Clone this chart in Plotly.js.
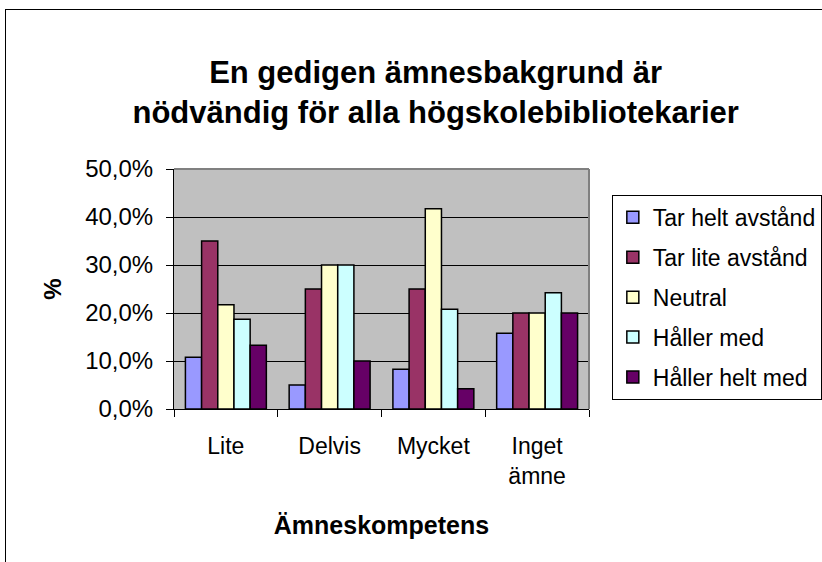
<!DOCTYPE html>
<html>
<head>
<meta charset="utf-8">
<script src="https://cdn.plot.ly/plotly-3.0.1.min.js"></script>
<style>
  html, body { margin: 0; padding: 0; background: #fff; }
  #wrap { position: relative; width: 822px; height: 562px; overflow: hidden; }
  #chart { width: 822px; height: 562px; }
  #frame { position: absolute; left: 5px; top: 9px; width: 900px; height: 700px;
           border-left: 1px solid #000; border-top: 1px solid #000; pointer-events: none; }
</style>
</head>
<body>
<div id="wrap">
  <div id="chart"></div>
  <div id="frame"></div>
</div>
<script>
const categories = ["Lite", "Delvis", "Mycket", "Inget<br>ämne"];
const seriesNames = ["Tar helt avstånd", "Tar lite avstånd", "Neutral", "Håller med", "Håller helt med"];
const tarHeltAvstand = [10.8, 5.0, 8.3, 15.8];
const tarLiteAvstand = [35.0, 25.0, 25.0, 20.0];
const neutral = [21.7, 30.0, 41.7, 20.0];
const hallerMed = [18.7, 30.0, 20.8, 24.2];
const hallerHeltMed = [13.3, 10.0, 4.2, 20.0];
const yTickVals = [0, 10, 20, 30, 40, 50];
const yTickText = ["0,0%", "10,0%", "20,0%", "30,0%", "40,0%", "50,0%"];

const seriesValues = [tarHeltAvstand, tarLiteAvstand, neutral, hallerMed, hallerHeltMed];
const colors = ["#9999FF", "#993366", "#FFFFCC", "#CCFFFF", "#660066"];
const FONT = "Liberation Sans, Arial, sans-serif";

const traces = seriesNames.map((name, i) => ({
  type: "bar",
  name: name,
  x: categories,
  y: seriesValues[i],
  legendgroup: "g" + i,
  marker: { color: colors[i], line: { color: "#000", width: 1.5 } },
  hoverinfo: "skip"
}));

const layout = {
  width: 822, height: 562,
  paper_bgcolor: "#fff",
  plot_bgcolor: "#C0C0C0",
  font: { family: FONT, color: "#000" },
  margin: { l: 174, r: 233, t: 169, b: 153, autoexpand: false },
  title: {
    text: "<b>En gedigen ämnesbakgrund är<br>nödvändig för alla högskolebibliotekarier</b>",
    font: { family: FONT, size: 31, color: "#000" },
    x: 0.530, xref: "container", xanchor: "center",
    y: 1 - 83 / 562, yref: "container", yanchor: "middle"
  },
  barmode: "group",
  bargap: 0.22,
  bargroupgap: 0,
  showlegend: true,
  legend: {
    x: 1.055, xanchor: "left", y: 0.892, yanchor: "top",
    bgcolor: "#fff", bordercolor: "#000", borderwidth: 1,
    font: { family: FONT, size: 23, color: "#000" },
    traceorder: "grouped", tracegroupgap: 7
  },
  xaxis: {
    type: "category",
    showline: true, linecolor: "#000", linewidth: 1,
    ticks: "outside", tickson: "boundaries", ticklen: 7, tickcolor: "#000",
    ticklabelstandoff: 16,
    tickfont: { family: FONT, size: 23, color: "#000" },
    showgrid: false, zeroline: false,
    title: { text: "<b>Ämneskompetens</b>", font: { family: FONT, size: 25, color: "#000" }, standoff: 28 }
  },
  yaxis: {
    range: [0, 50],
    tickvals: yTickVals, ticktext: yTickText,
    showline: true, linecolor: "#000", linewidth: 1,
    ticks: "outside", ticklen: 7, tickcolor: "#000",
    ticklabelstandoff: 8,
    tickfont: { family: FONT, size: 24, color: "#000" },
    showgrid: true, gridcolor: "#000", gridwidth: 1,
    zeroline: false,
    title: { text: "<b>%</b>", font: { family: FONT, size: 24, color: "#000" }, standoff: 16 }
  },
  shapes: [
    { type: "line", xref: "paper", yref: "paper", x0: 0, x1: 1, y0: 1, y1: 1, line: { color: "#808080", width: 2 }, layer: "above" },
    { type: "line", xref: "paper", yref: "paper", x0: 1, x1: 1, y0: 0, y1: 1, line: { color: "#808080", width: 2 }, layer: "above" }
  ]
};

Plotly.newPlot("chart", traces, layout, { staticPlot: true, displayModeBar: false });
</script>
</body>
</html>
